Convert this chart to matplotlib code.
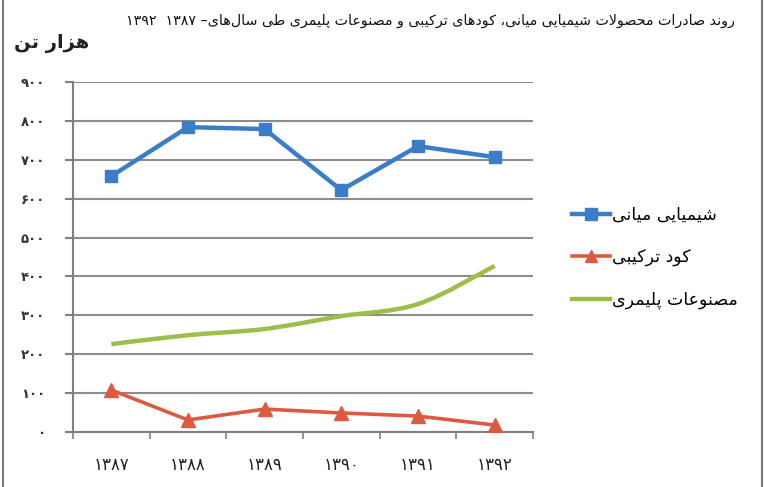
import re
import numpy as np
import matplotlib
matplotlib.use("Agg")
import matplotlib.pyplot as plt
from matplotlib.path import Path
from matplotlib.patches import PathPatch
from matplotlib.lines import Line2D

# --- data (thousand tonnes) ---
years = ["۱۳۸۷", "۱۳۸۸", "۱۳۸۹", "۱۳۹۰", "۱۳۹۱", "۱۳۹۲"]
intermediate_chem = [658, 784, 779, 622, 735, 707]
compound_fert = [108, 31, 59, 49, 41, 18]
polymer_products = [226, 249, 265, 298, 329, 427]
y_ticks = [0, 100, 200, 300, 400, 500, 600, 700, 800, 900]

title_text = "روند صادرات محصولات شیمیایی میانی، کودهای ترکیبی و مصنوعات پلیمری طی سال‌های"
unit_text = "هزار تن"
series_names = ["شیمیایی میانی", "کود ترکیبی", "مصنوعات پلیمری"]

# --- minimal arabic shaping (matplotlib does not shape RTL text) ---
FORMS = {
    "ا": ("\uFE8D", "\uFE8E", None, None), "آ": ("\uFE81", "\uFE82", None, None),
    "ب": ("\uFE8F", "\uFE90", "\uFE91", "\uFE92"), "ت": ("\uFE95", "\uFE96", "\uFE97", "\uFE98"),
    "ث": ("\uFE99", "\uFE9A", "\uFE9B", "\uFE9C"), "ج": ("\uFE9D", "\uFE9E", "\uFE9F", "\uFEA0"),
    "ح": ("\uFEA1", "\uFEA2", "\uFEA3", "\uFEA4"), "خ": ("\uFEA5", "\uFEA6", "\uFEA7", "\uFEA8"),
    "د": ("\uFEA9", "\uFEAA", None, None), "ذ": ("\uFEAB", "\uFEAC", None, None),
    "ر": ("\uFEAD", "\uFEAE", None, None), "ز": ("\uFEAF", "\uFEB0", None, None),
    "س": ("\uFEB1", "\uFEB2", "\uFEB3", "\uFEB4"), "ش": ("\uFEB5", "\uFEB6", "\uFEB7", "\uFEB8"),
    "ص": ("\uFEB9", "\uFEBA", "\uFEBB", "\uFEBC"), "ض": ("\uFEBD", "\uFEBE", "\uFEBF", "\uFEC0"),
    "ط": ("\uFEC1", "\uFEC2", "\uFEC3", "\uFEC4"), "ظ": ("\uFEC5", "\uFEC6", "\uFEC7", "\uFEC8"),
    "ع": ("\uFEC9", "\uFECA", "\uFECB", "\uFECC"), "غ": ("\uFECD", "\uFECE", "\uFECF", "\uFED0"),
    "ف": ("\uFED1", "\uFED2", "\uFED3", "\uFED4"), "ق": ("\uFED5", "\uFED6", "\uFED7", "\uFED8"),
    "ل": ("\uFEDD", "\uFEDE", "\uFEDF", "\uFEE0"), "م": ("\uFEE1", "\uFEE2", "\uFEE3", "\uFEE4"),
    "ن": ("\uFEE5", "\uFEE6", "\uFEE7", "\uFEE8"), "ه": ("\uFEE9", "\uFEEA", "\uFEEB", "\uFEEC"),
    "و": ("\uFEED", "\uFEEE", None, None), "ی": ("\uFBFC", "\uFBFD", "\uFBFE", "\uFBFF"),
    "ک": ("\uFB8E", "\uFB8F", "\uFB90", "\uFB91"), "گ": ("\uFB92", "\uFB93", "\uFB94", "\uFB95"),
    "پ": ("\uFB56", "\uFB57", "\uFB58", "\uFB59"), "چ": ("\uFB7A", "\uFB7B", "\uFB7C", "\uFB7D"),
    "ژ": ("\uFB8A", "\uFB8B", None, None),
}


def dual(c):
    return c in FORMS and FORMS[c][2] is not None


def shape(s):
    out = []
    i = 0
    while i < len(s):
        c = s[i]
        if c not in FORMS:
            if c != "\u200c":
                out.append(c)
            i += 1
            continue
        prev = s[i - 1] if i > 0 else ""
        joins_prev = dual(prev)
        if c == "ل" and i + 1 < len(s) and s[i + 1] in "اآ":
            out.append("\uFEFC" if joins_prev else "\uFEFB")
            i += 2
            continue
        nxt = s[i + 1] if i + 1 < len(s) else ""
        joins_next = dual(c) and nxt in FORMS
        iso, fin, ini, med = FORMS[c]
        if joins_prev and joins_next:
            out.append(med)
        elif joins_prev:
            out.append(fin)
        elif joins_next:
            out.append(ini)
        else:
            out.append(iso)
        i += 1
    vis = "".join(out)[::-1]
    # keep digit runs left-to-right
    return re.sub(r"[۰-۹0-9]+", lambda m: m.group(0)[::-1], vis)


plt.rcParams["font.family"] = ["DejaVu Sans"]

fig = plt.figure(figsize=(7.64, 4.87), dpi=100)
ax = fig.add_axes([0.0955, 0.1129, 0.602, 0.7187])

x = np.arange(len(years))
blue = "#3b7dc8"
red = "#dc5a3f"
green = "#9dbf4a"

ax.plot(x, intermediate_chem, color=blue, lw=3.2, marker="s", ms=9,
        markerfacecolor=blue, markeredgecolor=blue, zorder=4)
ax.plot(x, compound_fert, color=red, lw=2.6, marker="^", ms=10,
        markerfacecolor=red, markeredgecolor=red, zorder=4)

# smoothed line for polymer products (Catmull-Rom as cubic bezier)
pts = np.column_stack([x, polymer_products]).astype(float)
verts = [pts[0]]
codes = [Path.MOVETO]
for k in range(len(pts) - 1):
    p0 = pts[k - 1] if k > 0 else pts[k]
    p1 = pts[k]
    p2 = pts[k + 1]
    p3 = pts[k + 2] if k + 2 < len(pts) else pts[k + 1]
    verts += [p1 + (p2 - p0) / 6, p2 - (p3 - p1) / 6, p2]
    codes += [Path.CURVE4] * 3
ax.add_patch(PathPatch(Path(verts, codes), facecolor="none", edgecolor=green,
                       lw=3.2, capstyle="butt", zorder=3))

ax.set_xlim(-0.5, len(years) - 0.5)
ax.set_ylim(0, 900)
ax.set_yticks(y_ticks)
ax.set_yticklabels(["۰" if v == 0 else str(v).translate(str.maketrans("0123456789", "۰۱۲۳۴۵۶۷۸۹")) for v in y_ticks],
                   fontsize=9.5, fontweight="bold", color="#333333")
ax.set_xticks(x)
ax.set_xticklabels(years, fontsize=12, color="#222222")
ax.set_xticks(np.arange(-0.5, len(years)), minor=True)
ax.tick_params(axis="x", which="major", length=0, pad=17)
ax.tick_params(axis="x", which="minor", length=5, color="#808080", width=1.2, direction="out")
ax.tick_params(axis="y", length=6, color="#808080", width=1.5, pad=14)
ax.grid(axis="y", color="#8c8c8c", lw=1.5)
ax.set_axisbelow(True)
for side in ["top", "right"]:
    ax.spines[side].set_visible(False)
ax.spines["left"].set_color("#808080")
ax.spines["left"].set_linewidth(1.5)
ax.spines["bottom"].set_color("#808080")
ax.spines["bottom"].set_linewidth(1.5)

handles = [
    Line2D([], [], color=blue, lw=3.2, marker="s", ms=8),
    Line2D([], [], color=red, lw=2.6, marker="^", ms=9),
    Line2D([], [], color=green, lw=3.2),
]
fig.legend(handles, [shape(n) for n in series_names], loc="upper left",
           bbox_to_anchor=(0.728, 0.609), frameon=False, fontsize=12.5,
           handlelength=2.2, handletextpad=0.1, labelspacing=1.4)

fig.text(0.962, 0.958, "۱۳۹۲  ۱۳۸۷ –" + shape(title_text), ha="right", va="center",
         fontsize=10.3, color="#111111")
fig.text(0.018, 0.91, shape(unit_text), ha="left", va="center", fontsize=14,
         fontweight="bold", color="#222222")

# outer frame lines (left/right)
fig.add_artist(Line2D([0.004, 0.004], [0, 1], color="#777777", lw=1.5, transform=fig.transFigure))
fig.add_artist(Line2D([0.998, 0.998], [0, 1], color="#777777", lw=1.5, transform=fig.transFigure))

fig.savefig("out.png", dpi=100)
